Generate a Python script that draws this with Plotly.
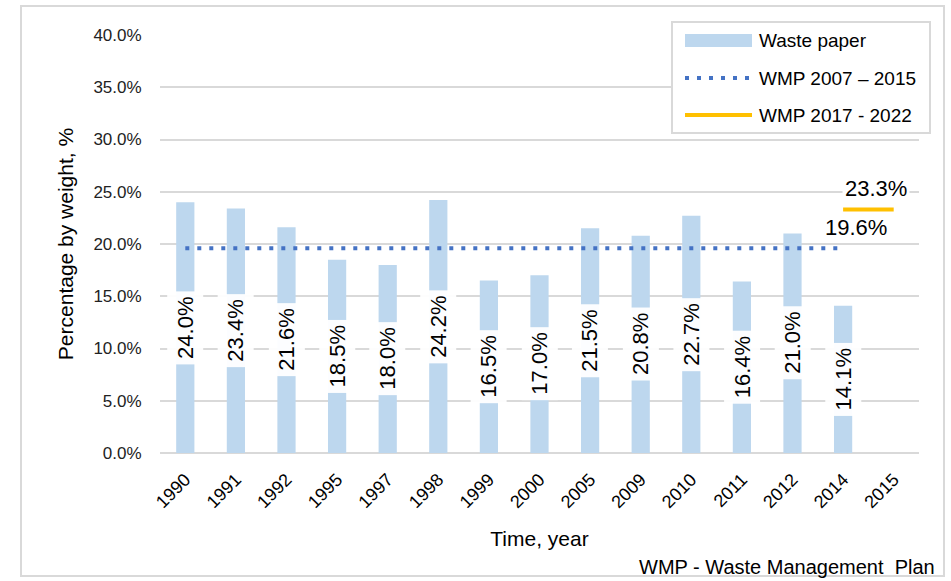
import plotly.graph_objects as go

# ---- data ----
years = ["1990", "1991", "1992", "1995", "1997", "1998", "1999", "2000",
         "2005", "2009", "2010", "2011", "2012", "2014", "2015"]
waste_paper = [24.0, 23.4, 21.6, 18.5, 18.0, 24.2, 16.5, 17.0,
               21.5, 20.8, 22.7, 16.4, 21.0, 14.1, None]
wmp_2007_2015 = [19.6] * 14 + [None]
wmp_2017_2022 = [None] * 13 + [23.3, 23.3]

y_ticks = [0, 5, 10, 15, 20, 25, 30, 35, 40]
y_tick_labels = [f"{t:.1f}%" for t in y_ticks]

# ---- styling ----
FONT = "Liberation Sans, Arial, sans-serif"
BAR_C = "#BDD7EE"
BLUE = "#4472C4"
YEL = "#FFC000"
GRID = "#D9D9D9"
W, H = 951, 581
PL, PR, PT, PB = 160, 919, 35, 453


def px(x):
    return (x - PL) / (PR - PL)


def py(y):
    return (PB - y) / (PB - PT)


fig = go.Figure()
fig.add_trace(go.Bar(x=years, y=waste_paper, marker_color=BAR_C,
                     marker_line_width=0, name="Waste paper", showlegend=False))
fig.add_trace(go.Scatter(x=years, y=wmp_2007_2015, mode="lines",
                         line=dict(color=BLUE, width=4, dash="4px,8px"),
                         name="WMP 2007 – 2015", showlegend=False))
fig.add_trace(go.Scatter(x=years, y=wmp_2017_2022, mode="lines",
                         line=dict(color=YEL, width=4),
                         name="WMP 2017 - 2022", showlegend=False))

ann = []
# bar value labels
for i, v in enumerate(waste_paper):
    if v is None:
        continue
    ann.append(dict(x=i, y=v / 2, xref="x", yref="y", text=f"{v:.1f}%",
                    textangle=-90, showarrow=False, bgcolor="rgba(255,255,255,0.95)",
                    borderpad=5, font=dict(family=FONT, size=22, color="#000")))

# line end labels
i_last07 = max(i for i, v in enumerate(wmp_2007_2015) if v is not None)
ann.append(dict(x=i_last07, y=wmp_2007_2015[i_last07], xref="x", yref="y",
                text=f"{wmp_2007_2015[i_last07]:.1f}%", showarrow=False,
                xshift=13, yshift=21, bgcolor="white", borderpad=2,
                font=dict(family=FONT, size=22, color="#000")))
idx17 = [i for i, v in enumerate(wmp_2017_2022) if v is not None]
ann.append(dict(x=(idx17[0] + idx17[-1]) / 2, y=wmp_2017_2022[idx17[-1]], xref="x", yref="y",
                text=f"{wmp_2017_2022[idx17[-1]]:.1f}%", showarrow=False,
                xshift=8, yshift=21, bgcolor="white", borderpad=2,
                font=dict(family=FONT, size=22, color="#000")))

# footnote
ann.append(dict(x=px(937), y=py(567), xref="paper", yref="paper", xanchor="right",
                yanchor="middle", text="WMP - Waste Management  Plan", showarrow=False,
                font=dict(family=FONT, size=20, color="#000")))

# custom legend
shapes = [
    dict(type="rect", xref="paper", yref="paper", x0=px(21), x1=px(944), y0=py(576), y1=py(6),
         line=dict(color=GRID, width=2), fillcolor="rgba(0,0,0,0)", layer="below"),
    dict(type="rect", xref="paper", yref="paper", x0=px(672), x1=px(930), y0=py(133), y1=py(22),
         line=dict(color=GRID, width=2), fillcolor="white", layer="above"),
    dict(type="rect", xref="paper", yref="paper", x0=px(685), x1=px(752), y0=py(47), y1=py(34),
         line=dict(width=0), fillcolor=BAR_C, layer="above"),
    dict(type="line", xref="paper", yref="paper", x0=px(685), x1=px(752), y0=py(78), y1=py(78),
         line=dict(color=BLUE, width=4, dash="4px,8px"), layer="above"),
    dict(type="line", xref="paper", yref="paper", x0=px(685), x1=px(752), y0=py(115), y1=py(115),
         line=dict(color=YEL, width=4), layer="above"),
]
for name, yy in [("Waste paper", 41), ("WMP 2007 – 2015", 78), ("WMP 2017 - 2022", 115)]:
    ann.append(dict(x=px(757), y=py(yy), xref="paper", yref="paper", xanchor="left",
                    yanchor="middle", text=name, showarrow=False,
                    font=dict(family=FONT, size=19, color="#000")))

fig.update_layout(
    width=W, height=H,
    margin=dict(l=PL, r=W - PR, t=PT, b=H - PB),
    paper_bgcolor="white", plot_bgcolor="white",
    bargap=0.64,
    showlegend=False,
    annotations=ann, shapes=shapes,
    font=dict(family=FONT, color="#000"),
)
fig.update_xaxes(
    type="category", tickangle=-45, ticks="outside", ticklen=8, tickcolor="rgba(0,0,0,0)",
    tickfont=dict(family=FONT, size=18, color="#000"),
    showline=False, showgrid=False,
    title=dict(text="Time, year", font=dict(family=FONT, size=21, color="#000"), standoff=20),
)
fig.update_yaxes(
    range=[0, 40], tickmode="array", tickvals=y_ticks, ticktext=y_tick_labels,
    ticks="outside", ticklen=14, tickcolor="rgba(0,0,0,0)",
    tickfont=dict(family=FONT, size=17, color="#222"),
    showgrid=True, gridcolor=GRID, gridwidth=2,
    zeroline=True, zerolinecolor=GRID, zerolinewidth=2,
    title=dict(text="Percentage by weight, %", font=dict(family=FONT, size=21, color="#000"),
               standoff=14),
)

fig.write_html(
    "out.html",
    config={"displayModeBar": False},
    post_script="document.body.style.margin='0';document.body.style.padding='0';"
                "document.body.style.overflow='hidden';",
)
